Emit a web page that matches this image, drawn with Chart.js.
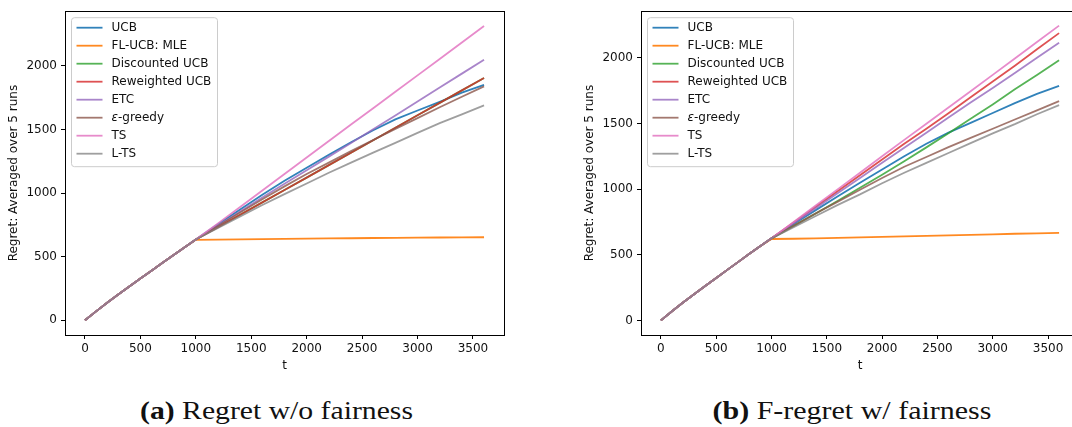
<!DOCTYPE html>
<html>
<head>
<meta charset="utf-8">
<script src="https://cdn.jsdelivr.net/npm/chart.js@4"></script>
<style>
html, body { margin: 0; padding: 0; background: #fff; overflow: hidden; width: 1072px; height: 427px; }
.box { position: absolute; top: 0; height: 380px; }
#wa { left: 0; width: 520px; }
#wb { left: 576px; width: 519px; }
.cap { position: absolute; top: 397px; font-family: "Liberation Serif", serif; font-size: 26px; line-height: 28px; white-space: nowrap; color: #111; }
</style>
</head>
<body>
<div class="box" id="wa"><canvas id="chartA"></canvas></div>
<div class="box" id="wb"><canvas id="chartB"></canvas></div>
<div class="cap" id="capA"><b>(a)</b> Regret w/o fairness</div>
<div class="cap" id="capB"><b>(b)</b> F-regret w/ fairness</div>
<script>
// time steps and tick labels
const tSteps = [0, 100, 200, 300, 400, 500, 600, 700, 800, 900, 1000,
  1200, 1400, 1600, 1800, 2000, 2200, 2400, 2600, 2800, 3000, 3200, 3400, 3600];
const xTicks = [0, 500, 1000, 1500, 2000, 2500, 3000, 3500];
const yTicks = [0, 500, 1000, 1500, 2000];

const names = ['UCB', 'FL-UCB: MLE', 'Discounted UCB', 'Reweighted UCB', 'ETC', 'ε-greedy', 'TS', 'L-TS'];
const colors = ['rgba(31,119,180,0.92)', 'rgba(255,127,14,0.92)', 'rgba(44,160,44,0.8)', 'rgba(214,39,40,0.8)',
  'rgba(148,103,189,0.8)', 'rgba(140,86,75,0.8)', 'rgba(227,119,194,0.85)', 'rgba(127,127,127,0.75)'];

// (a) regret without fairness
const aUCB    = [0, 70, 138, 202, 266, 328, 390, 452, 514, 575, 635, 755, 872, 988, 1098, 1200, 1302, 1400, 1495, 1580, 1650, 1718, 1790, 1852];
const aFLUCB  = [0, 70, 138, 202, 266, 328, 390, 452, 514, 575, 633, 634, 636, 638, 640, 642, 644, 645, 647, 648, 650, 651, 652, 653];
const aDisc   = [0, 70, 138, 202, 266, 328, 390, 452, 514, 575, 635, 732, 830, 927, 1025, 1122, 1220, 1318, 1416, 1514, 1612, 1710, 1808, 1905];
const aRew    = [0, 70, 138, 202, 266, 328, 390, 452, 514, 575, 635, 732, 830, 927, 1025, 1122, 1220, 1318, 1416, 1514, 1612, 1710, 1808, 1905];
const aETC    = [0, 70, 138, 202, 266, 328, 390, 452, 514, 575, 635, 745, 856, 966, 1074, 1180, 1287, 1395, 1503, 1611, 1720, 1830, 1940, 2050];
const aGreedy = [0, 70, 138, 202, 266, 328, 390, 452, 514, 575, 635, 742, 848, 952, 1053, 1150, 1240, 1330, 1418, 1505, 1590, 1675, 1758, 1840];
const aTS     = [0, 70, 138, 202, 266, 328, 390, 452, 514, 575, 635, 762, 891, 1020, 1150, 1280, 1410, 1540, 1668, 1797, 1926, 2055, 2185, 2315];
const aLTS    = [0, 70, 138, 202, 266, 328, 390, 452, 514, 575, 635, 727, 817, 906, 992, 1076, 1160, 1240, 1318, 1395, 1474, 1550, 1620, 1690];

// (b) F-regret with fairness
const bUCB    = [0, 70, 136, 199, 262, 323, 385, 446, 507, 567, 625, 735, 840, 945, 1048, 1150, 1250, 1345, 1430, 1505, 1580, 1655, 1725, 1787];
const bFLUCB  = [0, 70, 136, 199, 262, 323, 385, 446, 507, 567, 620, 622, 625, 628, 632, 636, 640, 644, 648, 652, 656, 660, 663, 667];
const bDisc   = [0, 70, 136, 199, 262, 323, 385, 446, 507, 567, 625, 720, 815, 912, 1010, 1110, 1212, 1318, 1425, 1535, 1645, 1760, 1870, 1982];
const bRew    = [0, 70, 136, 199, 262, 323, 385, 446, 507, 567, 625, 745, 865, 985, 1105, 1225, 1345, 1460, 1578, 1700, 1820, 1940, 2065, 2188];
const bETC    = [0, 70, 136, 199, 262, 323, 385, 446, 507, 567, 625, 740, 855, 970, 1085, 1200, 1315, 1430, 1545, 1660, 1770, 1885, 2000, 2115];
const bGreedy = [0, 70, 136, 199, 262, 323, 385, 446, 507, 567, 625, 720, 815, 905, 995, 1085, 1170, 1245, 1320, 1390, 1460, 1530, 1600, 1670];
const bTS     = [0, 70, 136, 199, 262, 323, 385, 446, 507, 567, 625, 750, 875, 1000, 1125, 1250, 1375, 1498, 1622, 1745, 1870, 1995, 2120, 2245];
const bLTS    = [0, 70, 136, 199, 262, 323, 385, 446, 507, 567, 625, 710, 795, 880, 960, 1045, 1125, 1200, 1275, 1350, 1425, 1495, 1570, 1640];

Chart.defaults.font.family = '"DejaVu Sans", sans-serif';
Chart.defaults.font.size = 12;
Chart.defaults.color = '#000';

// frame + matplotlib style legend inside the axes
const frameLegend = {
  id: 'frameLegend',
  afterDatasetsDraw(chart) {
    const ctx = chart.ctx, a = chart.chartArea;
    ctx.save();
    ctx.strokeStyle = '#000';
    ctx.lineWidth = 1;
    ctx.strokeRect(Math.round(a.left) + 0.5, Math.round(a.top) + 0.5,
      Math.round(a.right - a.left), Math.round(a.bottom - a.top));

    const x0 = a.left + 6.5, y0 = a.top + 6.5, w = 146, h = 149, r = 3;
    ctx.beginPath();
    ctx.moveTo(x0 + r, y0);
    ctx.arcTo(x0 + w, y0, x0 + w, y0 + h, r);
    ctx.arcTo(x0 + w, y0 + h, x0, y0 + h, r);
    ctx.arcTo(x0, y0 + h, x0, y0, r);
    ctx.arcTo(x0, y0, x0 + w, y0, r);
    ctx.closePath();
    ctx.fillStyle = 'rgba(255,255,255,0.8)';
    ctx.fill();
    ctx.strokeStyle = '#cccccc';
    ctx.stroke();

    ctx.textBaseline = 'middle';
    chart.data.datasets.forEach((ds, i) => {
      const y = y0 + 10 + i * 18;
      ctx.strokeStyle = ds.borderColor;
      ctx.lineWidth = 1.8;
      ctx.beginPath();
      ctx.moveTo(x0 + 5, y);
      ctx.lineTo(x0 + 31, y);
      ctx.stroke();
      ctx.fillStyle = '#111';
      let tx = x0 + 40;
      let label = ds.label;
      if (label.startsWith('ε')) {
        ctx.font = 'italic 12px "DejaVu Sans"';
        ctx.fillText('ε', tx, y);
        tx += ctx.measureText('ε').width;
        label = label.slice(1);
      }
      ctx.font = '12px "DejaVu Sans"';
      ctx.fillText(label, tx, y);
    });
    ctx.restore();
  }
};

function makeChart(id, series, yMin, yMax) {
  const datasets = series.map((s, i) => ({
    label: names[i],
    data: s.map((v, k) => ({ x: tSteps[k], y: v })),
    borderColor: colors[i],
    backgroundColor: colors[i],
    borderWidth: 1.8,
    pointRadius: 0,
    tension: 0,
    fill: false,
    order: series.length - i
  }));
  return new Chart(document.getElementById(id), {
    type: 'line',
    data: { datasets },
    options: {
      responsive: true,
      maintainAspectRatio: false,
      animation: false,
      layout: { padding: { top: 9, right: 16, left: 0, bottom: 0 } },
      plugins: { legend: { display: false }, tooltip: { enabled: false } },
      scales: {
        x: {
          type: 'linear',
          min: -180,
          max: 3780,
          afterBuildTicks: s => { s.ticks = xTicks.map(v => ({ value: v })); },
          afterFit: s => { s.height = 45; },
          ticks: { padding: 3, maxRotation: 0, color: '#111', callback: v => String(v) },
          grid: { display: true, drawOnChartArea: false, drawTicks: true, tickLength: 4, color: '#000' },
          border: { display: false },
          title: { display: true, text: 't', color: '#111', font: { size: 12 }, padding: { top: 0, bottom: 7 } }
        },
        y: {
          type: 'linear',
          min: yMin,
          max: yMax,
          afterBuildTicks: s => { s.ticks = yTicks.map(v => ({ value: v })); },
          afterFit: s => { s.width = 65; },
          ticks: { padding: 4, color: '#111', callback: v => String(v) },
          grid: { display: true, drawOnChartArea: false, drawTicks: true, tickLength: 4, color: '#000' },
          border: { display: false },
          title: { display: true, text: 'Regret: Averaged over 5 runs', color: '#111', font: { size: 12 }, padding: { top: 7, bottom: 0 } }
        }
      }
    },
    plugins: [frameLegend]
  });
}

makeChart('chartA', [aUCB, aFLUCB, aDisc, aRew, aETC, aGreedy, aTS, aLTS], -116, 2431);
makeChart('chartB', [bUCB, bFLUCB, bDisc, bRew, bETC, bGreedy, bTS, bLTS], -111, 2355);

// captions: centre and stretch to the reference width
function placeCaption(id, cx, targetW) {
  const el = document.getElementById(id);
  const w = el.getBoundingClientRect().width;
  const k = targetW / w;
  el.style.left = (cx - w / 2) + 'px';
  el.style.transformOrigin = 'center';
  el.style.transform = 'scaleX(' + k.toFixed(3) + ')';
}
placeCaption('capA', 276, 273);
placeCaption('capB', 852, 279);
</script>
</body>
</html>
